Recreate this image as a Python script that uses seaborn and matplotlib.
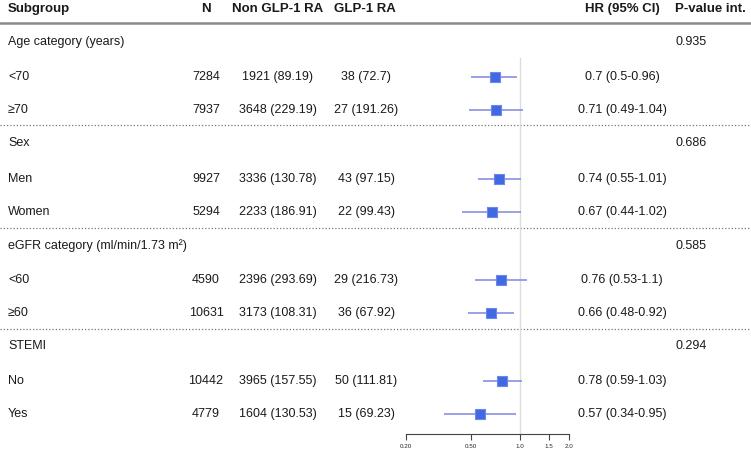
import numpy as np
import pandas as pd
import matplotlib.pyplot as plt
import matplotlib.ticker as mticker
import seaborn as sns

# table data
labels = ["Age category (years)", "<70", "\u226570",
          "Sex", "Men", "Women",
          "eGFR category (ml/min/1.73 m\u00b2)", "<60", "\u226560",
          "STEMI", "No", "Yes"]
n_total = ["", "7284", "7937", "", "9927", "5294", "", "4590", "10631", "", "10442", "4779"]
non_glp1 = ["", "1921 (89.19)", "3648 (229.19)", "", "3336 (130.78)", "2233 (186.91)",
            "", "2396 (293.69)", "3173 (108.31)", "", "3965 (157.55)", "1604 (130.53)"]
glp1 = ["", "38 (72.7)", "27 (191.26)", "", "43 (97.15)", "22 (99.43)",
        "", "29 (216.73)", "36 (67.92)", "", "50 (111.81)", "15 (69.23)"]
hr = [np.nan, 0.70, 0.71, np.nan, 0.74, 0.67, np.nan, 0.76, 0.66, np.nan, 0.78, 0.57]
lo = [np.nan, 0.50, 0.49, np.nan, 0.55, 0.44, np.nan, 0.53, 0.48, np.nan, 0.59, 0.34]
hi = [np.nan, 0.96, 1.04, np.nan, 1.01, 1.02, np.nan, 1.10, 0.92, np.nan, 1.03, 0.95]
hr_text = ["", "0.7 (0.5-0.96)", "0.71 (0.49-1.04)", "", "0.74 (0.55-1.01)", "0.67 (0.44-1.02)",
           "", "0.76 (0.53-1.1)", "0.66 (0.48-0.92)", "", "0.78 (0.59-1.03)", "0.57 (0.34-0.95)"]
p_int = ["0.935", "", "", "0.686", "", "", "0.585", "", "", "0.294", "", ""]
ticks = [0.2, 0.5, 1.0, 1.5, 2.0]
tick_labels = ["0.20", "0.50", "1.0", "1.5", "2.0"]

# layout (pixel rows)
W, H = 751, 450
row_y = [42, 77, 110, 143, 179, 212, 246, 280, 313, 346, 381, 414]
sep_y = [125, 228, 329]

sns.set_style("white")
plt.rcParams['font.family'] = ['Liberation Sans', 'DejaVu Sans']

fig = plt.figure(figsize=(W / 100, H / 100), dpi=100)
bg = fig.add_axes([0, 0, 1, 1])
bg.set_xlim(0, W)
bg.set_ylim(H, 0)
bg.axis("off")

fs = 9
txt = "#1a1a1a"
hdr = dict(fontsize=fs + 0.5, fontweight="bold", va="center", color=txt)
bg.text(8, 9, "Subgroup", ha="left", **hdr)
bg.text(206, 9, "N", ha="center", **hdr)
bg.text(278, 9, "Non GLP-1 RA", ha="center", **hdr)
bg.text(365, 9, "GLP-1 RA", ha="center", **hdr)
bg.text(622, 9, "HR (95% CI)", ha="center", **hdr)
bg.text(675, 9, "P-value int.", ha="left", **hdr)
bg.plot([0, W], [23, 23], color="#8a8a8a", lw=1.8)
for y in sep_y:
    bg.plot([0, W], [y, y], color="#777777", lw=0.9, ls=(0, (1, 1.6)))

for i, y in enumerate(row_y):
    kw = dict(fontsize=fs, va="center", color=txt)
    bg.text(8, y, labels[i], ha="left", **kw)
    bg.text(206, y, n_total[i], ha="center", **kw)
    bg.text(278, y, non_glp1[i], ha="center", **kw)
    bg.text(366, y, glp1[i], ha="center", **kw)
    bg.text(622, y, hr_text[i], ha="center", **kw)
    bg.text(675, y, p_int[i], ha="left", **kw)

# forest panel
ax = fig.add_axes([406 / W, (H - 434) / H, 163 / W, (434 - 23) / H])
ax.patch.set_alpha(0)
ax.set_xscale("log")
ax.set_xlim(0.2, 2.0)
ax.set_ylim(434, 23)
df = pd.DataFrame({"y": row_y, "hr": hr, "lo": lo, "hi": hi}).dropna()
ax.plot([1.0, 1.0], [58, 434], color="#dcdcdc", lw=1, zorder=0)
ax.hlines(df["y"], df["lo"], df["hi"], color="#8a8fe0", lw=1.2, zorder=1)
sns.scatterplot(data=df, x="hr", y="y", marker="s", s=58, color="#4169e1",
                edgecolor="#6d88ea", linewidth=0.8, ax=ax, zorder=2, legend=False)
ax.set_xlabel("")
ax.set_ylabel("")
ax.set_yticks([])
for s in ["top", "right", "left"]:
    ax.spines[s].set_visible(False)
ax.spines["bottom"].set_color("#444444")
ax.spines["bottom"].set_linewidth(0.8)
ax.xaxis.set_major_locator(mticker.FixedLocator(ticks))
ax.xaxis.set_major_formatter(mticker.FixedFormatter(tick_labels))
ax.xaxis.set_minor_locator(mticker.NullLocator())
ax.tick_params(axis="x", bottom=True, length=4, width=0.8, color="#444444",
               labelsize=4.5, pad=3)

fig.savefig("out.png", dpi=100)
